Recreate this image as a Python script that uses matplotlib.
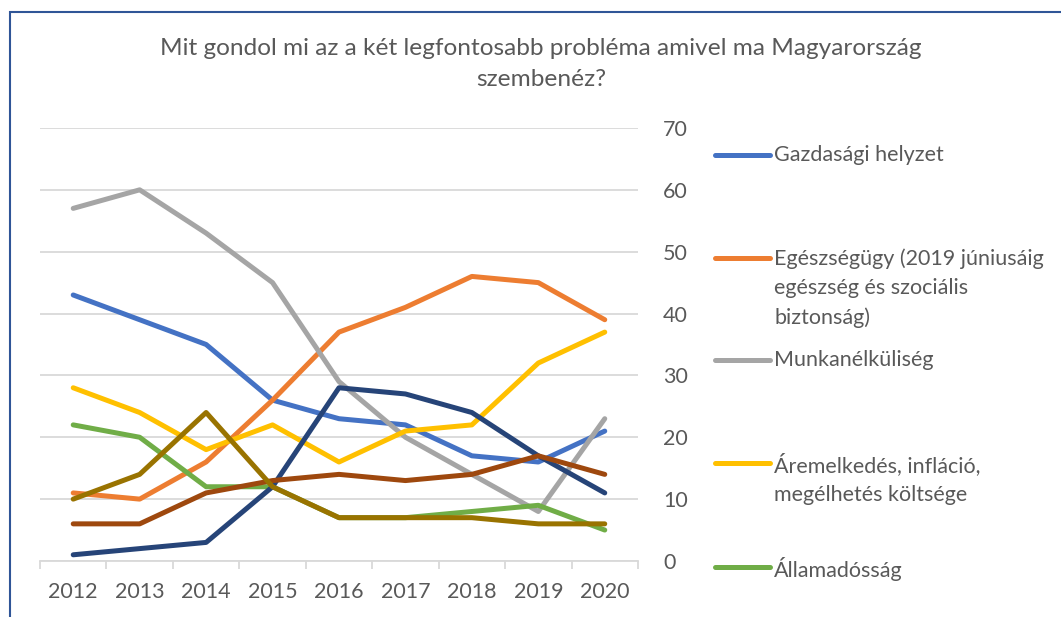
import matplotlib
matplotlib.use("Agg")
import matplotlib.pyplot as plt
from matplotlib.lines import Line2D
from matplotlib.patches import Rectangle

plt.rcParams["font.family"] = ["Lato", "DejaVu Sans"]

YEARS = ["2012", "2013", "2014", "2015", "2016", "2017", "2018", "2019", "2020"]

GAZDASAGI   = [43, 39, 35, 26, 23, 22, 17, 16, 21]
EGESZSEGUGY = [11, 10, 16, 26, 37, 41, 46, 45, 39]
MUNKANELK   = [57, 60, 53, 45, 29, 20, 14, 8, 23]
AREMELKEDES = [28, 24, 18, 22, 16, 21, 22, 32, 37]
ALLAMADOSS  = [22, 20, 12, 12, 7, 7, 8, 9, 5]
SERIES_6    = [1, 2, 3, 12, 28, 27, 24, 17, 11]
SERIES_7    = [6, 6, 11, 13, 14, 13, 14, 17, 14]
SERIES_8    = [10, 14, 24, 12, 7, 7, 7, 6, 6]

LABELS = [
    "Gazdasági helyzet",
    "Egészségügy (2019 júniusáig\negészség és szociális\nbiztonság)",
    "Munkanélküliség",
    "Áremelkedés, infláció,\nmegélhetés költsége",
    "Államadósság",
]

COLORS = ["#4472C4", "#ED7D31", "#A5A5A5", "#FFC000", "#70AD47",
          "#264478", "#9E480E", "#997300"]

TEXT = "#595959"
GRID = "#D9D9D9"

fig = plt.figure(figsize=(10.61, 6.17), dpi=100)
ax = fig.add_axes([0.0377, 0.0908, 0.5636, 0.7018])

x = list(range(len(YEARS)))
all_series = [GAZDASAGI, EGESZSEGUGY, MUNKANELK, AREMELKEDES, ALLAMADOSS,
              SERIES_6, SERIES_7, SERIES_8]
for vals, col in zip(all_series, COLORS):
    ax.plot(x, vals, color=col, lw=3.6, solid_capstyle="round",
            solid_joinstyle="round", zorder=3)

ax.set_xlim(-0.5, len(YEARS) - 0.5)
ax.set_ylim(0, 70)
ax.set_yticks(range(0, 71, 10))
ax.yaxis.tick_right()
ax.tick_params(axis="y", length=0, pad=18, labelsize=15.5, labelcolor=TEXT)
ax.grid(axis="y", color=GRID, lw=1.3, zorder=0)

ax.set_xticks(x)
ax.set_xticklabels(YEARS)
ax.set_xticks([i - 0.5 for i in range(len(YEARS) + 1)], minor=True)
ax.tick_params(axis="x", which="major", length=0, pad=15, labelsize=15.5,
               labelcolor=TEXT)
ax.tick_params(axis="x", which="minor", length=6, width=1.3, color=GRID)

for side in ("top", "left", "right"):
    ax.spines[side].set_visible(False)
ax.spines["bottom"].set_color(GRID)
ax.spines["bottom"].set_linewidth(1.3)

fig.text(0.51, 1 - 64 / 617,
         "Mit gondol mi az a két legfontosabb probléma amivel ma Magyarország\nszembenéz?",
         ha="center", va="center", fontsize=17.6, color=TEXT, linespacing=1.55)

# legend (first five series), drawn by hand so the marker sits on the first text line
legend_y_px = [155, 258, 360, 463, 567]
for lab, col, ypx in zip(LABELS, COLORS, legend_y_px):
    yf = 1 - ypx / 617
    fig.add_artist(Line2D([715 / 1061, 770 / 1061], [yf, yf], color=col, lw=3.6,
                          solid_capstyle="round", transform=fig.transFigure))
    fig.text(774 / 1061, yf + 10 / 617, lab, ha="left", va="top", fontsize=15.5,
             color=TEXT, linespacing=1.58)

# chart frame (only the left and top edges are inside the picture)
fig.add_artist(Rectangle((9.5 / 1061, -0.1), 1.2, 1.1 - 11.5 / 617,
                         transform=fig.transFigure, fill=False,
                         edgecolor="#2F5597", lw=1.5))

fig.savefig("out.png", dpi=100, facecolor="white")
